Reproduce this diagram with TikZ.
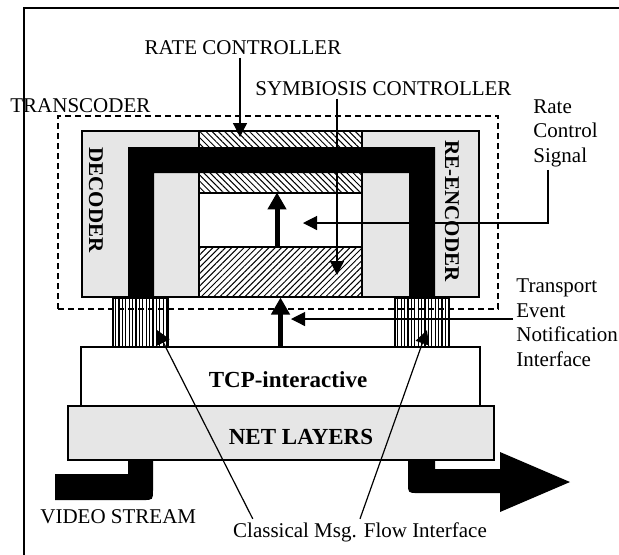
\documentclass[tikz,border=0pt]{standalone}
\usepackage{fontspec}
\setmainfont{Liberation Serif}
\usepackage{tikz}
\usetikzlibrary{arrows.meta, positioning, fit, patterns.meta}
\definecolor{layergray}{RGB}{230,230,230}

\begin{document}
\begin{tikzpicture}[
    x=0.5pt, y=-0.5pt,
    box/.style={rectangle, draw, line width=0.6pt, inner sep=0pt},
    graybox/.style={box, fill=layergray},
    ratebox/.style={box, pattern={Lines[angle=-45, distance=2.2pt, line width=0.5pt]}},
    symbox/.style={box, pattern={Lines[angle=45, distance=2.2pt, line width=0.5pt]}},
    ifbox/.style={box, pattern={Lines[angle=90, distance=1.7pt, line width=0.6pt]}},
    dashbox/.style={rectangle, draw, dash pattern=on 3pt off 2pt, line width=0.6pt, inner sep=0pt},
    lbl/.style={font=\fontsize{10.5}{12.2}\selectfont, inner sep=1.5pt},
    sidelbl/.style={font=\fontsize{10.5}{12}\selectfont\bfseries, rotate=-90, inner sep=0pt},
    layerlbl/.style={font=\fontsize{11.5}{13}\selectfont\bfseries, inner sep=0pt},
    thinarrow/.style={-{Triangle[length=7pt, width=7pt]}, line width=0.6pt},
    thickarrow/.style={-{Triangle[length=8.5pt, width=9pt]}, line width=2.5pt}
]
\useasboundingbox (0,0) rectangle (619,554);

% Frame
\draw[line width=1pt] (24,560) -- (24,8) -- (625,8);

% Decoder and re-encoder
\node[graybox, fit={(82,131) (199,297)}] (dec) {};
\node[graybox, fit={(362,131) (479,297)}] (enc) {};

% Middle column: rate controller, window, symbiosis controller
\node[ratebox, fit={(199,131) (362,193)}] (ratectl) {};
\node[box, fill=white, fit={(199,193) (362,247)}] (window) {};
\node[symbox, fit={(199,247) (362,297)}] (symctl) {};

% Data path through the transcoder
\fill (128,297) -- (128,147) -- (435,147) -- (435,297) -- (409,297)
      -- (409,173) -- (154,173) -- (154,297) -- cycle;

% Message flow interfaces
\node[ifbox, fit={(113,298) (168,347)}] (lif) {};
\node[ifbox, fit={(395,298) (449,347)}] (rif) {};

% Layers
\node[box, fill=white, fit={(81,347) (480,406)}] (tcp) {};
\node[graybox, fit={(68,406) (494,460)}] (net) {};
\node[layerlbl, anchor=base] (tcplbl) at (288,387) {TCP-interactive};
\node[layerlbl, anchor=base] (netlbl) at (301,444) {NET LAYERS};

% Video in and out
\fill (55,474) -- (128,474) -- (128,460) -- (153,460) -- (153,490)
      .. controls (153,500) .. (143,500) -- (55,500) -- cycle;
\fill (408,460) -- (435,460) -- (435,469) -- (500,469) -- (500,452) -- (570,482)
      -- (500,512) -- (500,493) -- (418,493) .. controls (408,493) .. (408,483) -- cycle;

% Transcoder boundary
\node[dashbox, fit={(58,116) (498,309)}] (trans) {};

% Labels
\node[lbl, anchor=base west] (lbltrans) at (7,112) {TRANSCODER};
\node[lbl, anchor=base] (lblrate) at (243,54) {RATE CONTROLLER};
\node[lbl, anchor=base west] (lblsym) at (252,95) {SYMBIOSIS CONTROLLER};
\node[sidelbl] (declbl) at (96,200) {DECODER};
\node[sidelbl] (enclbl) at (452,211) {RE-ENCODER};
\node[lbl, anchor=base west, align=left] (lblsignal) at (530,162) {Rate\\Control\\Signal};
\node[lbl, anchor=base west, align=left] (lblnotify) at (513,366) {Transport\\Event\\Notification\\Interface};
\node[lbl, anchor=base west] (lblvideo) at (37,523) {VIDEO STREAM};
\node[lbl, anchor=base] (lblmsg) at (360,537) {Classical Msg. Flow Interface};

% Controller arrows
\coordinate (ratetip) at (240,137);
\coordinate (symtip) at (337,275);
\draw[thinarrow] (lblrate.south -| ratetip) -- (ratetip);
\draw[thinarrow] (lblsym.south -| symtip) -- (symtip);

% Rate control signal
\coordinate (sigx) at (548,0);
\coordinate (sigtip) at (303,223);
\draw[thinarrow] (lblsignal.south -| sigx) |- (sigtip);

% Transport events
\coordinate (eventtip) at (291,319);
\draw[thinarrow] (lblnotify.west |- eventtip) -- (eventtip);
\draw[thickarrow] (symctl.south |- tcp.north) -- (symctl.south);
\draw[thickarrow] ([xshift=-1.75pt]window.south) -- ([xshift=-1.75pt]window.north);

% Classical message flow
\coordinate (lmsgtip) at (157,330);
\coordinate (rmsgtip) at (427,330);
\draw[thinarrow] ([xshift=11.5pt]lblmsg.north west) -- (lmsgtip);
\draw[thinarrow] (lblmsg.north) -- (rmsgtip);

\end{tikzpicture}
\end{document}
